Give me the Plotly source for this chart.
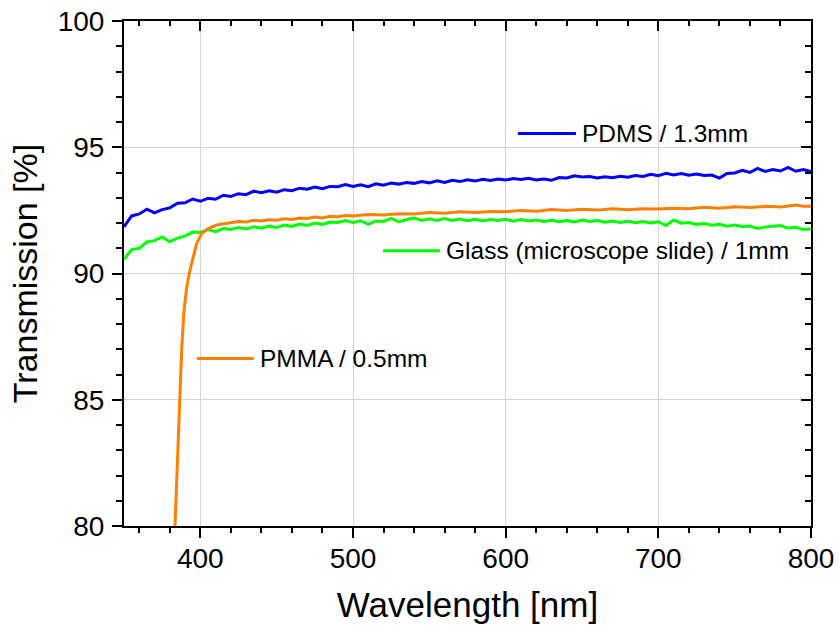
import plotly.graph_objects as go

# ---- data: optical transmission spectra ----
wl_step = list(range(350, 801, 5))

pdms_t = [
    91.85, 92.28, 92.36, 92.55, 92.40, 92.53, 92.60, 92.78, 92.80, 92.95,
    92.86, 92.98, 92.94, 93.10, 93.05, 93.16, 93.12, 93.26, 93.20, 93.28,
    93.22, 93.32, 93.28, 93.38, 93.34, 93.42, 93.36, 93.45, 93.44, 93.52,
    93.45, 93.51, 93.44, 93.55, 93.50, 93.58, 93.54, 93.60, 93.57, 93.64,
    93.59, 93.67, 93.61, 93.69, 93.64, 93.71, 93.66, 93.73, 93.68, 93.74,
    93.70, 93.76, 93.72, 93.77, 93.70, 93.74, 93.69, 93.80, 93.78, 93.87,
    93.82, 93.84, 93.78, 93.83, 93.79, 93.85, 93.81, 93.88, 93.84, 93.93,
    93.87, 93.97, 93.90, 93.96, 93.89, 93.94, 93.88, 93.90, 93.78, 93.96,
    93.98, 94.09, 94.00, 94.16, 94.04, 94.12, 94.06, 94.20, 94.05, 94.12,
    94.04,
]

glass_t = [
    90.56, 90.95, 91.00, 91.25, 91.30, 91.45, 91.26, 91.40, 91.48, 91.64,
    91.62, 91.74, 91.66, 91.78, 91.74, 91.82, 91.76, 91.85, 91.79, 91.88,
    91.82, 91.92, 91.86, 91.96, 91.90, 92.00, 91.94, 92.04, 92.02, 92.10,
    92.02, 92.09, 91.95, 92.08, 92.06, 92.18, 92.04, 92.14, 92.20, 92.10,
    92.17, 92.10, 92.18, 92.10, 92.16, 92.09, 92.15, 92.08, 92.14, 92.10,
    92.15, 92.07, 92.14, 92.08, 92.12, 92.06, 92.11, 92.05, 92.10, 92.04,
    92.12, 92.06, 92.10, 92.03, 92.08, 92.02, 92.07, 92.01, 92.06, 92.00,
    92.05, 91.90, 92.12, 91.99, 92.02, 91.94, 91.98, 91.91, 91.95, 91.87,
    91.92, 91.85, 91.88, 91.78, 91.84, 91.88, 91.90, 91.80, 91.83, 91.74,
    91.76,
]

pmma_wl = [
    383.4, 384.5, 385.6, 386.2, 387.1, 388.0, 389.3, 391.1, 393.2, 395.4,
    397.6, 400.9, 405.2, 410.7, 417.2, 425, 430, 435, 440, 445,
    450, 455, 460, 465, 470, 475, 480, 485, 490, 495,
    500, 510, 520, 530, 540, 550, 560, 570, 580, 590,
    600, 610, 620, 630, 640, 650, 660, 670, 680, 690,
    700, 710, 720, 730, 740, 750, 760, 770, 780, 790,
    795, 800,
]
pmma_t = [
    80.00, 81.96, 83.28, 84.59, 85.91, 87.23, 88.55, 89.47, 90.13, 90.66,
    91.19, 91.59, 91.78, 91.92, 91.98, 92.06, 92.04, 92.11, 92.08, 92.13,
    92.11, 92.17, 92.14, 92.20, 92.18, 92.24, 92.20, 92.27, 92.25, 92.30,
    92.28, 92.34, 92.32, 92.37, 92.36, 92.42, 92.39, 92.45, 92.42, 92.46,
    92.45, 92.50, 92.47, 92.53, 92.50, 92.54, 92.51, 92.56, 92.52, 92.56,
    92.55, 92.58, 92.56, 92.62, 92.58, 92.64, 92.61, 92.66, 92.63, 92.71,
    92.66, 92.66,
]

series_names = ["PDMS / 1.3mm", "Glass (microscope slide) / 1mm", "PMMA / 0.5mm"]
series_colors = ["#0000FF", "#00FF00", "#FF8000"]

x_title = "Wavelength [nm]"
y_title = "Transmission [%]"
x_range = [350, 800]
y_range = [80, 100]

FONT = "Arial, Liberation Sans, sans-serif"

fig = go.Figure()
fig.add_trace(go.Scatter(x=wl_step, y=pdms_t, mode="lines",
                         line=dict(color=series_colors[0], width=3),
                         name=series_names[0], showlegend=False))
fig.add_trace(go.Scatter(x=wl_step, y=glass_t, mode="lines",
                         line=dict(color=series_colors[1], width=3),
                         name=series_names[1], showlegend=False))
fig.add_trace(go.Scatter(x=pmma_wl, y=pmma_t, mode="lines",
                         line=dict(color=series_colors[2], width=3),
                         name=series_names[2], showlegend=False))
# empty trace that anchors the mirrored top/right axes
fig.add_trace(go.Scatter(x=[None], y=[None], xaxis="x2", yaxis="y2",
                         showlegend=False, hoverinfo="skip"))

axis_common = dict(showline=True, linecolor="black", linewidth=2,
                   zeroline=False, ticklen=10, tickwidth=2, tickcolor="black",
                   automargin=False)

fig.update_layout(
    width=840, height=631,
    margin=dict(l=124, r=29, t=21, b=105),
    plot_bgcolor="white", paper_bgcolor="white",
    font=dict(family=FONT, color="black"),
    xaxis=dict(range=x_range, tick0=0, dtick=100, ticks="outside",
               showgrid=True, gridcolor="#d4d4d4", gridwidth=1,
               tickfont=dict(size=28), ticklabelstandoff=-4,
               title=dict(text=x_title, font=dict(size=35), standoff=20),
               minor=dict(dtick=20, ticks="outside", ticklen=5,
                          tickwidth=2, tickcolor="black", showgrid=False),
               **axis_common),
    yaxis=dict(range=y_range, tick0=0, dtick=5, ticks="outside",
               showgrid=True, gridcolor="#d4d4d4", gridwidth=1,
               tickfont=dict(size=28), ticklabelstandoff=2,
               title=dict(text=y_title, font=dict(size=34), standoff=10),
               minor=dict(dtick=1, ticks="outside", ticklen=6,
                          tickwidth=2, tickcolor="black", showgrid=False),
               **axis_common),
    xaxis2=dict(range=x_range, overlaying="x", side="top", anchor="y",
                tick0=0, dtick=100, ticks="inside", showticklabels=False,
                showgrid=False,
                minor=dict(dtick=20, ticks="inside", ticklen=5,
                           tickwidth=2, tickcolor="black"),
                **axis_common),
    yaxis2=dict(range=y_range, overlaying="y", side="right", anchor="x",
                tick0=0, dtick=5, ticks="inside", showticklabels=False,
                showgrid=False,
                minor=dict(dtick=1, ticks="inside", ticklen=6,
                           tickwidth=2, tickcolor="black"),
                **axis_common),
)

# in-plot labels: short colored line followed by the series name
label_pos = [  # (x start, x end, y) in plot-area fractions
    (0.5735, 0.658, 0.777),
    (0.377, 0.460, 0.545),
    (0.106, 0.189, 0.3315),
]
for (x0, x1, yv), name, col in zip(label_pos, series_names, series_colors):
    fig.add_shape(type="line", xref="paper", yref="paper",
                  x0=x0, x1=x1, y0=yv, y1=yv,
                  line=dict(color=col, width=3))
    fig.add_annotation(xref="paper", yref="paper", x=x1 + 0.006, y=yv,
                       text=name, showarrow=False, xanchor="left",
                       yanchor="middle", font=dict(size=24.5, color="black"))

fig.write_html("out.html")
